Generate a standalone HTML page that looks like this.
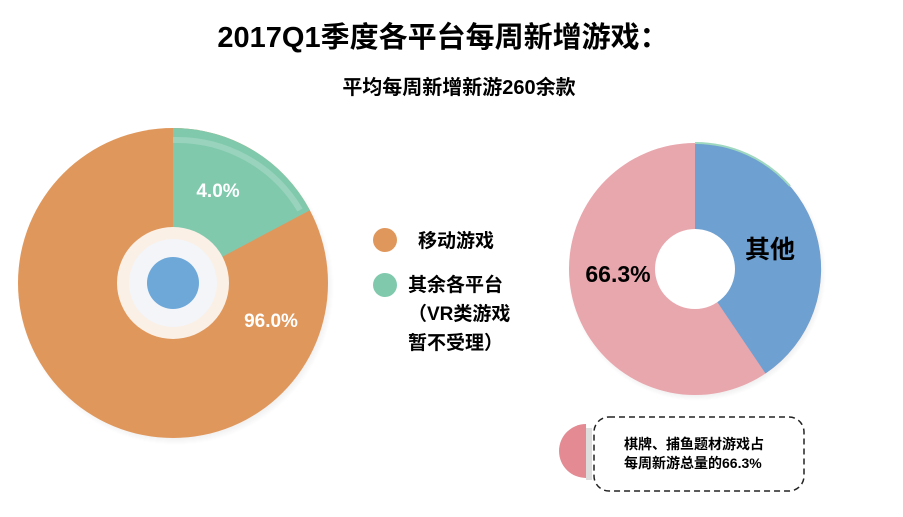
<!DOCTYPE html>
<html><head><meta charset="utf-8"><style>
body{margin:0;background:#fff;}
svg text{font-family:"Liberation Sans","Noto Sans CJK SC",sans-serif;font-weight:bold;}
</style></head><body>
<svg width="903" height="512" viewBox="0 0 903 512" xmlns="http://www.w3.org/2000/svg">
<defs>
<radialGradient id="sh" cx="0.5" cy="0.5" r="0.5"><stop offset="0.9" stop-color="#000" stop-opacity="0.12"/><stop offset="1" stop-color="#000" stop-opacity="0"/></radialGradient>
</defs>
<text x="443" y="47" font-size="29" text-anchor="middle" fill="#000">2017Q1季度各平台每周新增游戏：</text>
<text x="459" y="94" font-size="20" text-anchor="middle" fill="#000">平均每周新增新游260余款</text>

<!-- left pie -->
<circle cx="176" cy="287" r="158" fill="url(#sh)"/>
<circle cx="173" cy="283" r="155" fill="#e0975c"/>
<path d="M173 283 L173 128 A155 155 0 0 1 309.9 210.2 Z" fill="#80c9ad"/>
<path d="M173 140 A143 143 0 0 1 300 210" fill="none" stroke="#fff" stroke-opacity="0.2" stroke-width="6"/>
<circle cx="173" cy="283" r="56" fill="#faf0e6"/>
<circle cx="173" cy="283" r="44" fill="#f3f5f8"/>
<circle cx="173" cy="283" r="26" fill="#6ea8d9"/>
<text x="218" y="197" font-size="19" text-anchor="middle" fill="#fff">4.0%</text>
<text x="271" y="327" font-size="19" text-anchor="middle" fill="#fff">96.0%</text>

<!-- legend -->
<circle cx="385" cy="240" r="12" fill="#e0975c"/>
<text x="418" y="247" font-size="19" fill="#000">移动游戏</text>
<circle cx="385" cy="285" r="12" fill="#80c9ad"/>
<text x="408" y="291" font-size="19" fill="#000">其余各平台</text>
<text x="408" y="320" font-size="19" fill="#000">（VR类游戏</text>
<text x="408" y="349" font-size="19" fill="#000">暂不受理）</text>

<!-- right donut -->
<circle cx="697" cy="272" r="129" fill="url(#sh)"/>
<circle cx="695" cy="269" r="126" fill="#e8a6ad"/>
<path d="M695 143 A126 126 0 0 1 765.5 373.5 L695 269 Z" fill="#6ea0d1"/>
<path d="M695 143 A126 126 0 0 1 790 186" fill="none" stroke="#9fd8c0" stroke-width="2"/>
<circle cx="695" cy="269" r="40" fill="#fff"/>
<text x="770" y="258" font-size="25" text-anchor="middle" fill="#000">其他</text>
<text x="618" y="282" font-size="23" text-anchor="middle" fill="#000" font-weight="normal">66.3%</text>

<!-- bottom callout -->
<path d="M586 424 A27 27 0 0 0 586 478 Z" fill="#e38a93"/>
<rect x="586" y="428" width="6" height="52" fill="#ddd"/>
<rect x="594" y="417" width="210" height="74" rx="15" fill="none" stroke="#222" stroke-width="1.5" stroke-dasharray="6,4"/>
<text x="624" y="449" font-size="14" fill="#000">棋牌、捕鱼题材游戏占</text>
<text x="624" y="468" font-size="14" fill="#000">每周新游总量的66.3%</text>
</svg>
</body></html>
